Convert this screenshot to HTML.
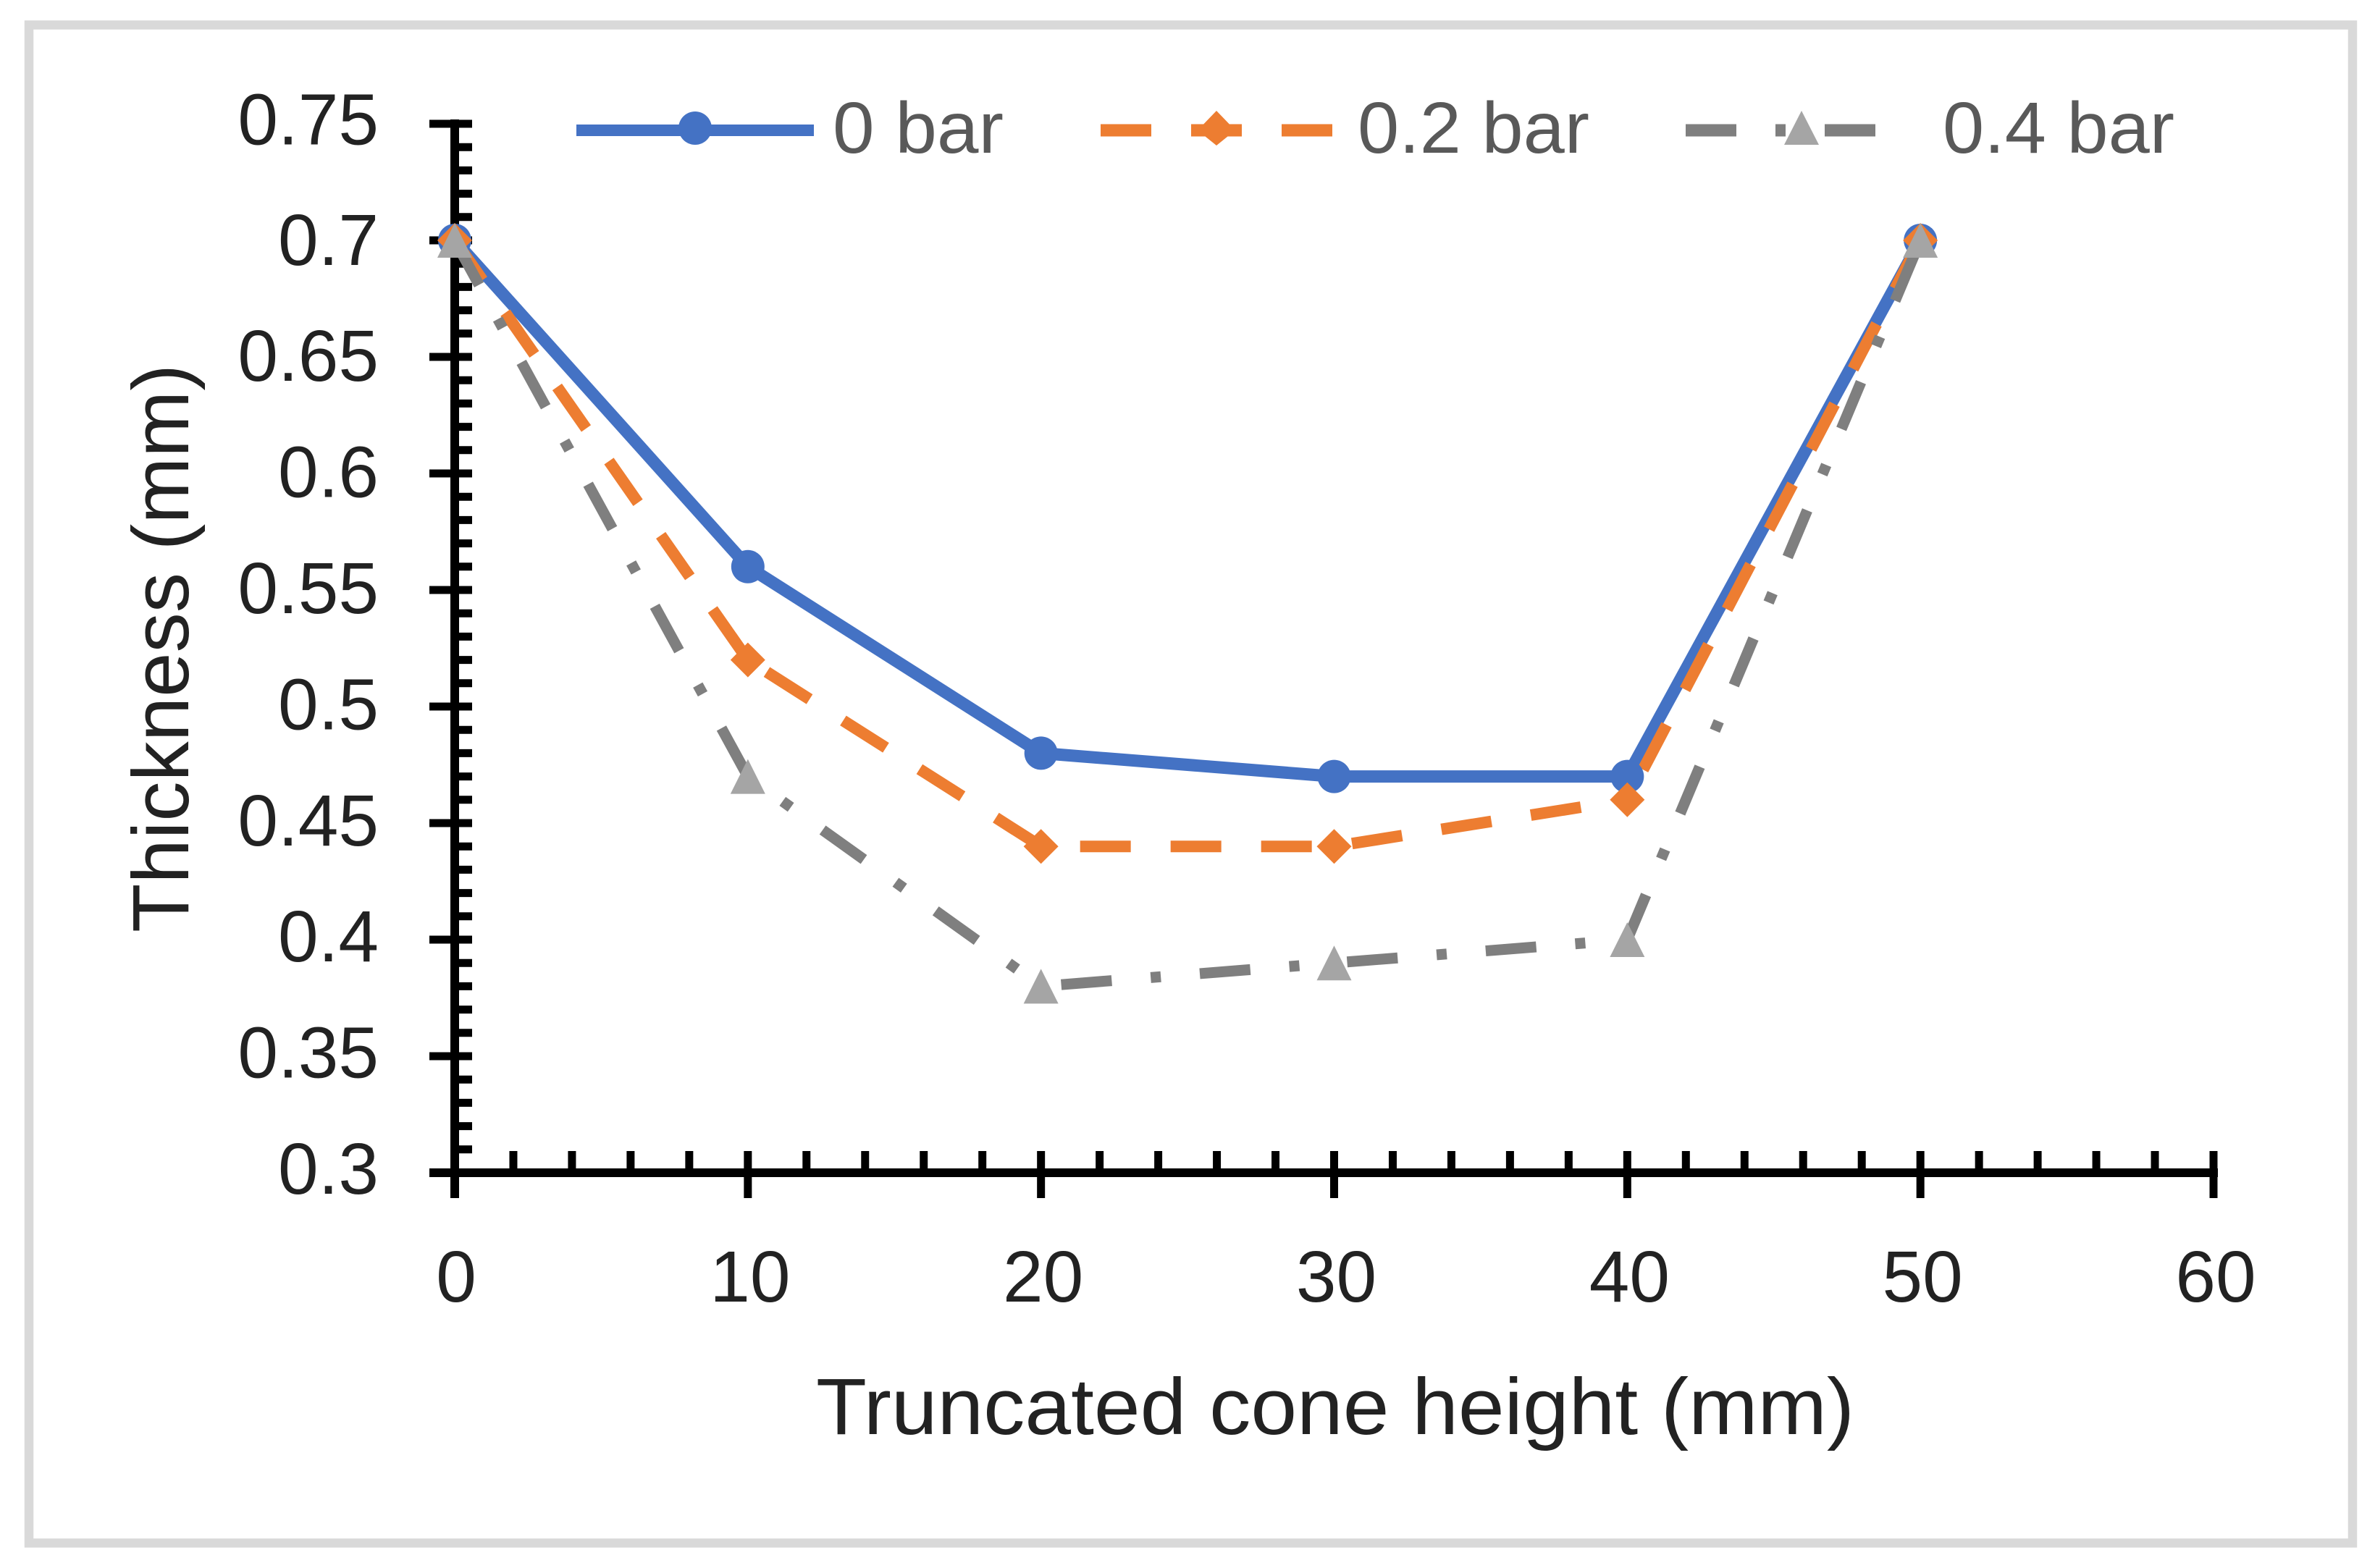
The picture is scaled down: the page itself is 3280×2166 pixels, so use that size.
<!DOCTYPE html>
<html lang="en">
<head>
<meta charset="utf-8">
<title>Thickness vs truncated cone height</title>
<style>
  html, body { margin: 0; padding: 0; background: #fff; }
  svg { display: block; }
  text { font-family: "Liberation Sans", sans-serif; }
</style>
</head>
<body>
<svg id="chart" xmlns="http://www.w3.org/2000/svg" width="3280" height="2166" viewBox="0 0 3280 2166">
  <rect x="40" y="34.5" width="3209" height="2097" fill="#fff" stroke="#d9d9d9" stroke-width="12.5"/>
  <g id="axes"></g>
  <g id="series"></g>
  <g id="markers"></g>
  <g>
    <g>
      <line x1="796" y1="180" x2="1124" y2="180" stroke="#4472c4" stroke-width="16"/>
      <circle cx="960" cy="177" r="23" fill="#4472c4"/>
      <text x="1150" y="211" font-size="100" fill="#595959" textLength="236" lengthAdjust="spacingAndGlyphs">0 bar</text>
    </g>
    <g>
      <line x1="1520" y1="180" x2="1840" y2="180" stroke="#ed7d31" stroke-width="17" stroke-dasharray="70 55"/>
      <polygon points="1680,153 1706,180 1680,201 1654,180" fill="#ed7d31"/>
      <text x="1875" y="211" font-size="100" fill="#595959" textLength="320" lengthAdjust="spacingAndGlyphs">0.2 bar</text>
    </g>
    <g>
      <line x1="2328" y1="180" x2="2596" y2="180" stroke="#7f7f7f" stroke-width="17" stroke-dasharray="70 54 14 54"/>
      <polygon points="2488,153 2512,200 2464,200" fill="#a5a5a5"/>
      <text x="2683" y="211" font-size="100" fill="#595959" textLength="320" lengthAdjust="spacingAndGlyphs">0.4 bar</text>
    </g>
  </g>
  <text x="1127" y="1981" font-size="110" fill="#222" textLength="1434" lengthAdjust="spacingAndGlyphs">Truncated cone height (mm)</text>
  <text transform="translate(260 1288) rotate(-90)" x="0" y="0" font-size="110" fill="#222" textLength="785" lengthAdjust="spacingAndGlyphs">Thickness (mm)</text>
</svg>
<script>
const heights = [0, 10, 20, 30, 40, 50];
const thickness0Bar = [0.7, 0.56, 0.48, 0.47, 0.47, 0.7];
const thickness02Bar = [0.7, 0.52, 0.44, 0.44, 0.46, 0.7];
const thickness04Bar = [0.7, 0.47, 0.38, 0.39, 0.4, 0.7];
const xTickLabels = ['0', '10', '20', '30', '40', '50', '60'];
const yTickLabels = ['0.3', '0.35', '0.4', '0.45', '0.5', '0.55', '0.6', '0.65', '0.7', '0.75'];
const orangeDashPhase = [3, 94, 71, 100, 78];
const grayDashPhase = [0, 65, 164, 174, 3];

const NS = 'http://www.w3.org/2000/svg';
const axes = document.getElementById('axes');
const seriesLayer = document.getElementById('series');
const markerLayer = document.getElementById('markers');

function xScale(v) { return 628 + (v - 0) * (3057 - 628) / 60; }
function yScale(v) { return 1620 - (v - 0.3) * (1620 - 171) / 0.45; }

function shape(parent, tag, attrs) {
  const node = document.createElementNS(NS, tag);
  Object.keys(attrs).forEach(function (k) { node.setAttribute(k, attrs[k]); });
  parent.appendChild(node);
  return node;
}

let el = shape(axes, 'line', { x1: xScale(0), y1: yScale(0.75) - 6, x2: xScale(0), y2: 1655, stroke: '#000', 'stroke-width': 12 });


el = shape(axes, 'line', { x1: 593, y1: yScale(0.3), x2: xScale(60) + 6, y2: yScale(0.3), stroke: '#000', 'stroke-width': 12 });



for (let i = 0; i <= 45; i++) {
  const v = 0.3 + i * 0.01;
  const major = i % 5 === 0;
  el = shape(axes, 'line', { x1: major ? 593 : xScale(0), y1: yScale(v), x2: 652, y2: yScale(v), stroke: '#000', 'stroke-width': 11 });
  
  
}
for (let i = 0; i <= 30; i++) {
  const v = i * 2;
  const major = v % 10 === 0;
  el = shape(axes, 'line', { x1: xScale(v), y1: 1590, x2: xScale(v), y2: major ? 1655 : yScale(0.3), stroke: '#000', 'stroke-width': 11 });
  
  
}
yTickLabels.forEach(function (label, i) {
  el = shape(axes, 'text', { x: 523, y: 1649 - i * 160.4 + (i === 9 ? -6 : 0), 'font-size': 100, 'text-anchor': 'end', fill: '#222' });
  el.textContent = label;
  
  
});
xTickLabels.forEach(function (label) {
  el = shape(axes, 'text', { x: xScale(parseFloat(label)) + (label === '0' ? 2 : 3), y: 1798, 'font-size': 100, 'text-anchor': 'middle', fill: '#222' });
  el.textContent = label;
  
  
});

function drawSeries(values, color, width, dash, phases, name) {
  values.forEach(function (v, i) {
    if (i === 0) return;
    const attrs = { x1: xScale(heights[i - 1]), y1: yScale(values[i - 1]), x2: xScale(heights[i]), y2: yScale(v), stroke: color, 'stroke-width': width };
    if (dash) { attrs['stroke-dasharray'] = dash; attrs['stroke-dashoffset'] = phases[i - 1]; }
    const seg = shape(seriesLayer, 'line', attrs);
    
    
  });
}
drawSeries(thickness0Bar, '#4472c4', 17, null, null, 'series-0-bar');
drawSeries(thickness02Bar, '#ed7d31', 16, '70 55', orangeDashPhase, 'series-0-2-bar');
drawSeries(thickness04Bar, '#7f7f7f', 15, '70 54 14 54', grayDashPhase, 'series-0-4-bar');

heights.forEach(function (h, i) {
  const cx = xScale(h);
  const cy = yScale(thickness0Bar[i]);
  const c = shape(markerLayer, 'circle', { cx: cx, cy: cy, r: 23, fill: '#4472c4' });
  
  
});
heights.forEach(function (h, i) {
  const cx = xScale(h);
  const cy = yScale(thickness02Bar[i]);
  const d = shape(markerLayer, 'polygon', { points: [cx, cy - 24, cx + 24, cy, cx, cy + 24, cx - 24, cy].join(' '), fill: '#ed7d31' });
  
  
});
heights.forEach(function (h, i) {
  const cx = xScale(h);
  const cy = yScale(thickness04Bar[i]);
  const t = shape(markerLayer, 'polygon', { points: [cx, cy - 24, cx + 24, cy + 24, cx - 24, cy + 24].join(' '), fill: '#a5a5a5' });
  
  
});
</script>
</body>
</html>
